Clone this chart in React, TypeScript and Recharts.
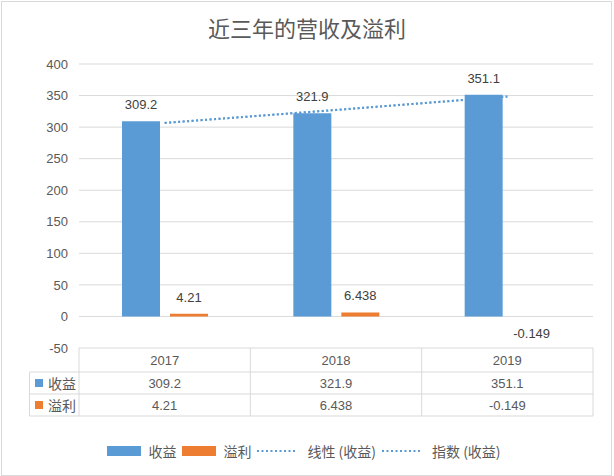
import { ComposedChart, Bar, Line, XAxis, YAxis, CartesianGrid, LabelList } from 'recharts'

const years = ['2017', '2018', '2019']
const revenue = [309.2, 321.9, 351.1] // 收益
const profit = [4.21, 6.438, -0.149] // 溢利
// trendlines
const linearTrend = [306.5, 327.4, 348.4]
const expTrend = [306.8, 327.0, 348.4]
const yTicks = [-50, 0, 50, 100, 150, 200, 250, 300, 350, 400]

const BLUE = '#5b9bd5'
const ORANGE = '#ed7d31'
const GRID = '#d9d9d9'
const TEXT = '#595959'
const LABEL = '#404040'
const FONT = "'Liberation Sans', 'Noto Sans CJK SC', sans-serif"
const CJK = "'Noto Sans CJK SC', sans-serif"

const W = 614
const H = 476
const MARGIN = { top: 64, right: 21, bottom: 59, left: 0 }
const Y_AXIS_W = 79
const X_AXIS_H = 69
const ROWS = [0, 24, 46, 68] // table row lines, relative to the axis top
const TABLE_LEFT = 29.5

const data = years.map((year, i) => ({
  year,
  revenue: revenue[i],
  profit: profit[i],
  linear: linearTrend[i],
  exp: expTrend[i]
}))

const TableTick = (props: any) => {
  const { x, y, payload, index } = props
  const half = (W - MARGIN.left - MARGIN.right - Y_AXIS_W) / years.length / 2
  const mid = (r: number) => y + (ROWS[r] + ROWS[r + 1]) / 2
  const textProps = { textAnchor: 'middle' as const, dominantBaseline: 'central' as const, fontSize: 13, fill: TEXT, fontFamily: FONT }
  const plotLeft = x - half
  const plotRight = plotLeft + half * 2 * years.length
  return (
    <g>
      <line x1={x + half} x2={x + half} y1={y} y2={y + ROWS[3]} stroke={GRID} />
      {index === 0 && (
        <g>
          <line x1={plotLeft} x2={plotLeft} y1={y} y2={y + ROWS[3]} stroke={GRID} />
          <line x1={TABLE_LEFT} x2={TABLE_LEFT} y1={y + ROWS[1]} y2={y + ROWS[3]} stroke={GRID} />
          {[1, 2, 3].map((r) => (
            <line key={r} x1={TABLE_LEFT} x2={plotRight} y1={y + ROWS[r]} y2={y + ROWS[r]} stroke={GRID} />
          ))}
          <rect x={35} y={mid(1) - 4} width={8} height={8} fill={BLUE} />
          <text x={48} y={mid(1)} dominantBaseline='central' fontSize={14} fill={TEXT} fontFamily={CJK}>收益</text>
          <rect x={35} y={mid(2) - 4} width={8} height={8} fill={ORANGE} />
          <text x={48} y={mid(2)} dominantBaseline='central' fontSize={14} fill={TEXT} fontFamily={CJK}>溢利</text>
        </g>
      )}
      <text x={x} y={mid(0)} {...textProps}>{payload.value}</text>
      <text x={x} y={mid(1)} {...textProps}>{revenue[index]}</text>
      <text x={x} y={mid(2)} {...textProps}>{profit[index]}</text>
    </g>
  )
}

const LegendItem = ({ color, label, dotted }: { color: string; label: string; dotted?: boolean }) => (
  <div style={{ display: 'flex', alignItems: 'center', marginRight: 6 }}>
    {dotted ? (
      <svg width={40} height={10}>
        <line x1={0} x2={40} y1={5} y2={5} stroke={color} strokeWidth={2} strokeDasharray='2 2.5' />
      </svg>
    ) : (
      <div style={{ width: 34, height: 10, background: color }} />
    )}
    <span style={{ marginLeft: dotted ? 10 : 7 }}>{label}</span>
  </div>
)

export default function App() {
  return (
    <div style={{ position: 'relative', width: W, height: H, background: '#fff' }}>
      <style>{'body{margin:0}'}</style>
      <div
        style={{
          position: 'absolute', left: 0, top: 14, width: W, textAlign: 'center',
          fontFamily: CJK, fontSize: 22, color: TEXT, lineHeight: '26px'
        }}
      >
        近三年的营收及溢利
      </div>
      <ComposedChart width={W} height={H} data={data} margin={MARGIN} barGap={10} style={{ position: 'absolute', left: 0, top: 0 }}>
        <CartesianGrid vertical={false} stroke={GRID} />
        <XAxis
          dataKey='year'
          height={X_AXIS_H}
          axisLine={false}
          tickLine={false}
          tickSize={0}
          tickMargin={0}
          interval={0}
          tick={<TableTick />}
        />
        <YAxis
          width={Y_AXIS_W}
          domain={[-50, 400]}
          ticks={yTicks}
          axisLine={false}
          tickLine={false}
          tickSize={0}
          tickMargin={11}
          tick={{ fill: TEXT, fontSize: 13, fontFamily: FONT }}
        />
        <Bar dataKey='revenue' fill={BLUE} barSize={38} isAnimationActive={false}>
          <LabelList dataKey='revenue' position='top' offset={12} fill={LABEL} fontSize={13} fontFamily={FONT} />
        </Bar>
        <Bar dataKey='profit' fill={ORANGE} barSize={38} isAnimationActive={false}>
          <LabelList dataKey='profit' position='top' offset={12} fill={LABEL} fontSize={13} fontFamily={FONT} />
        </Bar>
        <Line dataKey='linear' stroke={BLUE} strokeWidth={2} strokeDasharray='2 2.5' dot={false} activeDot={false} isAnimationActive={false} />
        <Line dataKey='exp' stroke={BLUE} strokeWidth={2} strokeDasharray='2 2.5' dot={false} activeDot={false} isAnimationActive={false} />
      </ComposedChart>
      <div
        style={{
          position: 'absolute', left: 0, top: 441, width: W, display: 'flex', justifyContent: 'center',
          fontFamily: CJK, fontSize: 14, color: TEXT, lineHeight: '20px'
        }}
      >
        <LegendItem color={BLUE} label='收益' />
        <LegendItem color={ORANGE} label='溢利' />
        <LegendItem color={BLUE} label='线性 (收益)' dotted />
        <LegendItem color={BLUE} label='指数 (收益)' dotted />
      </div>
      <div
        style={{
          position: 'absolute', left: 1, top: 1, width: 611, height: 475,
          border: `1px solid ${GRID}`, boxSizing: 'border-box', pointerEvents: 'none'
        }}
      />
    </div>
  )
}
